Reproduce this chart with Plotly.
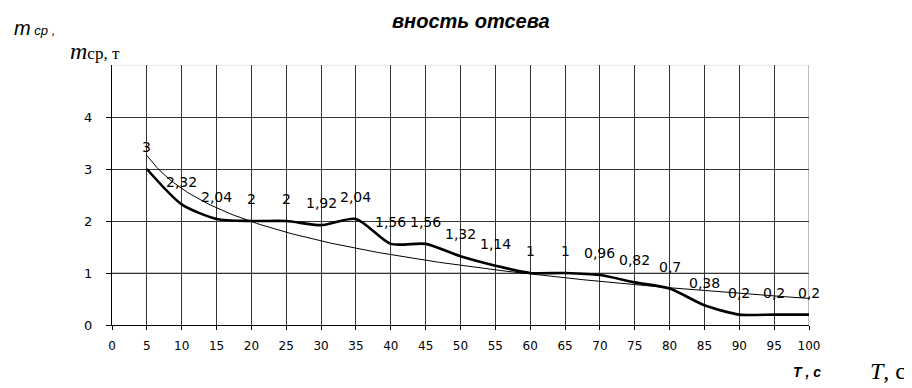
import numpy as np
import plotly.graph_objects as go

# ---- data ----
t_values = [5, 10, 15, 20, 25, 30, 35, 40, 45, 50, 55, 60, 65, 70, 75, 80, 85, 90, 95, 100]
m_values = [3, 2.32, 2.04, 2, 2, 1.92, 2.04, 1.56, 1.56, 1.32, 1.14, 1, 1, 0.96, 0.82, 0.7, 0.38, 0.2, 0.2, 0.2]
x_ticks = list(range(0, 101, 5))
y_ticks = [0, 1, 2, 3, 4]

title_text = "вность отсева"
ylabel_sans = "<i>m</i><span style='font-size:13px'><i> ср ,</i></span>"
ylabel_serif = "<i>m</i><span style='font-size:17px'>ср, т</span>"
xlabel_sans = "<b><i>T , с</i></b>"
xlabel_serif = "<i>T</i>, с"

# page geometry (the page body has an 8px margin)
OFF = 8
PAGE_W, PAGE_H = 912, 388
W, H = PAGE_W - OFF, PAGE_H - OFF
X0_PAGE, X1_PAGE = 112, 809     # plot left / right on the page
Y0_PAGE, Y1_PAGE = 325, 65      # plot bottom / top on the page
L = X0_PAGE - OFF
R = W - (X1_PAGE - OFF)
T = Y1_PAGE - OFF
B = H - (Y0_PAGE - OFF)
PW, PH = W - L - R, H - T - B


def px(x):
    return (x - OFF - L) / PW


def py(y):
    return ((Y0_PAGE - OFF) - (y - OFF)) / PH


def fmt(v):
    return ("%g" % v).replace(".", ",")


# logarithmic trend line fitted to the data
b, a = np.polyfit(np.log(t_values), m_values, 1)
t_dense = np.linspace(min(t_values), max(t_values), 200)
trend = a + b * np.log(t_dense)

fig = go.Figure()
fig.add_trace(go.Scatter(x=t_dense, y=trend, mode="lines",
                         line=dict(color="black", width=1), hoverinfo="skip"))
fig.add_trace(go.Scatter(x=t_values, y=m_values, mode="lines",
                         line=dict(color="black", width=2.6, shape="spline", smoothing=0.7)))

annotations = []
for x, y in zip(t_values, m_values):
    annotations.append(dict(x=x, y=y, xref="x", yref="y", text=fmt(y), showarrow=False,
                            xanchor="center", yanchor="middle", yshift=22,
                            font=dict(family="DejaVu Sans", size=14, color="black")))


def page_text(x, y, text, family, size, xanchor="center"):
    return dict(x=px(x), y=py(y), xref="paper", yref="paper", text=text, showarrow=False,
                xanchor=xanchor, yanchor="middle",
                font=dict(family=family, size=size, color="black"))


annotations += [
    page_text(471, 21, "<b><i>" + title_text + "</i></b>", "Liberation Sans", 20),
    page_text(12, 28, ylabel_sans, "Liberation Sans", 20, xanchor="left"),
    page_text(68, 51, ylabel_serif, "Liberation Serif", 24, xanchor="left"),
    page_text(807, 372, xlabel_sans, "Liberation Sans", 14),
    page_text(888, 371, xlabel_serif, "Liberation Serif", 24),
]

shapes = [
    dict(type="line", xref="paper", yref="y", x0=0, x1=1, y0=1, y1=1,
         line=dict(color="#8a8a8a", width=1), layer="below"),
    dict(type="line", xref="paper", yref="y", x0=0, x1=1, y0=5, y1=5,
         line=dict(color="#e8e8e8", width=1.5), layer="below"),
    dict(type="line", xref="x", yref="paper", x0=100, x1=100, y0=0, y1=1,
         line=dict(color="#bdbdbd", width=2), layer="below"),
]

fig.update_layout(
    width=W, height=H,
    margin=dict(l=L, r=R, t=T, b=B, pad=0),
    paper_bgcolor="white", plot_bgcolor="white",
    showlegend=False,
    annotations=annotations,
    shapes=shapes,
    xaxis=dict(range=[0, 100], tickvals=x_ticks, ticktext=[str(v) for v in x_ticks],
               showgrid=True, gridcolor="#333333", gridwidth=1,
               showline=True, linecolor="black", linewidth=1,
               ticks="outside", ticklen=4, tickcolor="black", ticklabelstandoff=6,
               zeroline=False,
               tickfont=dict(family="DejaVu Sans", size=12, color="black")),
    yaxis=dict(range=[0, 5], tickvals=y_ticks, ticktext=[str(v) for v in y_ticks],
               showgrid=True, gridcolor="#333333", gridwidth=1,
               showline=True, linecolor="black", linewidth=1,
               ticks="outside", ticklen=5, tickcolor="black", ticklabelstandoff=11,
               zeroline=False,
               tickfont=dict(family="DejaVu Sans", size=13, color="black")),
)

fig.write_html("out.html")
